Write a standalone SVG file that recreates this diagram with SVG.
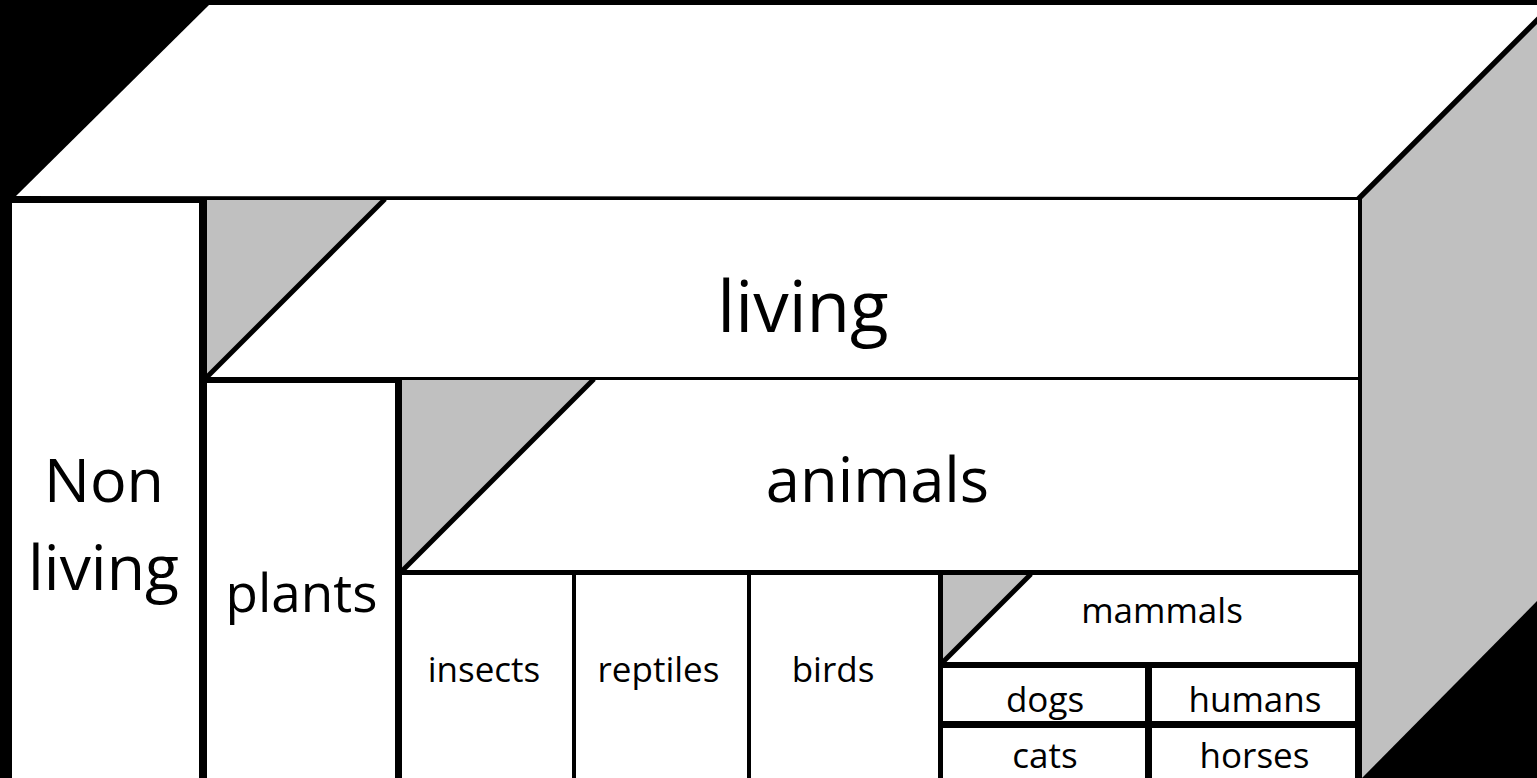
<svg xmlns="http://www.w3.org/2000/svg" width="1537" height="778" viewBox="0 0 1537 778">
<style>
.w{fill:#ffffff}
.g{fill:#c0c0c0}
.d{stroke:#000;stroke-width:5;stroke-linecap:butt}
text{font-family:"Open Sans","Noto Sans",sans-serif;fill:#000;text-anchor:middle}
.s{font-size:35px}
</style>
<rect x="0" y="0" width="1537" height="778" fill="#000"/>
<g id="top-face">
<polygon class="w" points="16,196 209,5 1552,5 1358,197"/>
</g>
<g id="right-face">
<polygon class="g" points="1362,199 1540,21 1540,598 1362,778"/>
<line class="d" x1="1358" y1="199" x2="1541" y2="16"/>
</g>
<g id="non-living">
<rect class="w" x="12" y="203" width="187" height="580"/>
<text x="104" y="502" font-size="61">Non</text>
<text x="103.5" y="590" font-size="62.5">living</text>
</g>
<g id="living">
<rect class="w" x="207" y="200" width="1151" height="177"/>
<polygon class="g" points="207,200 383,200 207,376"/>
<line class="d" x1="385" y1="199" x2="206" y2="378"/>
<text x="803" y="332" font-size="71">living</text>
</g>
<g id="plants">
<rect class="w" x="207" y="383" width="188" height="400"/>
<text x="301.5" y="612" font-size="53">plants</text>
</g>
<g id="animals">
<rect class="w" x="402" y="380" width="956" height="190"/>
<polygon class="g" points="402,380 592,380 402,570"/>
<line class="d" x1="594" y1="379" x2="401" y2="572"/>
<text x="877.5" y="502" font-size="61.5">animals</text>
</g>
<g id="insects">
<rect class="w" x="402" y="575" width="170" height="208"/>
<text class="s" x="484" y="682">insects</text>
</g>
<g id="reptiles">
<rect class="w" x="576" y="575" width="171" height="208"/>
<text class="s" x="658.5" y="682">reptiles</text>
</g>
<g id="birds">
<rect class="w" x="751" y="575" width="187" height="208"/>
<text class="s" x="833" y="682">birds</text>
</g>
<g id="mammals">
<rect class="w" x="943" y="575" width="415" height="87"/>
<polygon class="g" points="943,575 1029,575 943,661"/>
<line class="d" x1="1031" y1="574" x2="942" y2="663"/>
<text class="s" x="1162" y="623">mammals</text>
</g>
<g id="dogs">
<rect class="w" x="943" y="668" width="202" height="53"/>
<text class="s" x="1045" y="712">dogs</text>
</g>
<g id="humans">
<rect class="w" x="1152" y="668" width="203" height="53"/>
<text class="s" x="1255" y="712">humans</text>
</g>
<g id="cats">
<rect class="w" x="943" y="728" width="202" height="55"/>
<text class="s" x="1045" y="768">cats</text>
</g>
<g id="horses">
<rect class="w" x="1152" y="728" width="203" height="55"/>
<text class="s" x="1254.5" y="768">horses</text>
</g>
<g id="connectors"></g>
</svg>
